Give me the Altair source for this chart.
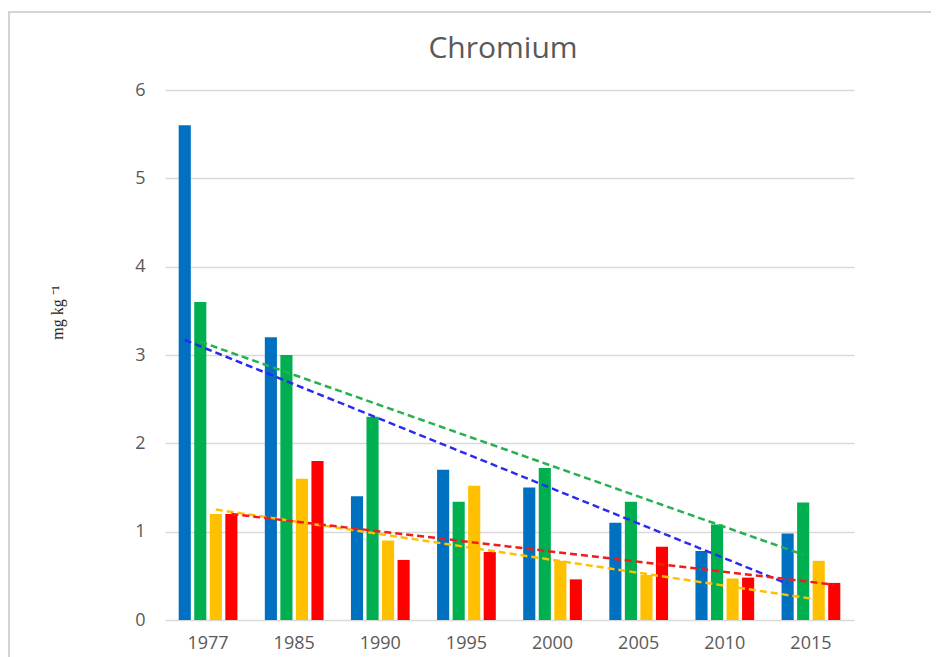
import altair as alt
import pandas as pd

years = ["1977", "1985", "1990", "1995", "2000", "2005", "2010", "2015"]
series = ["Series 1", "Series 2", "Series 3", "Series 4"]
s1_values = [5.6, 3.2, 1.4, 1.7, 1.5, 1.1, 0.78, 0.98]
s2_values = [3.6, 3.0, 2.3, 1.34, 1.72, 1.34, 1.08, 1.33]
s3_values = [1.2, 1.6, 0.9, 1.52, 0.67, 0.51, 0.47, 0.67]
s4_values = [1.2, 1.8, 0.68, 0.77, 0.46, 0.83, 0.48, 0.42]
trend_start = [3.17, 3.15, 1.25, 1.20]   # value of each trend line at 1977
trend_end = [0.41, 0.74, 0.23, 0.40]     # value of each trend line at 2015
chart_title = ["Chromium"]

bar_colors = ["#0070C0", "#00B050", "#FFC000", "#FF0000"]
trend_colors = ["#2B2BF0", "#27B04F", "#FFC000", "#F21C1C"]

all_values = [s1_values, s2_values, s3_values, s4_values]
bars = pd.DataFrame(
    [{"Year": y, "Series": s, "Value": v}
     for s, vals in zip(series, all_values) for y, v in zip(years, vals)]
)
trends = pd.DataFrame(
    [{"Year": years[0], "Series": s, "Value": a} for s, a in zip(series, trend_start)]
    + [{"Year": years[-1], "Series": s, "Value": b} for s, b in zip(series, trend_end)]
)
title_df = pd.DataFrame({"t": chart_title})

FONT = "Open Sans"
GRAY = "#595959"

x_enc = alt.X(
    "Year:N",
    sort=years,
    scale=alt.Scale(paddingInner=0.3, paddingOuter=0.15),
    axis=alt.Axis(
        title=None, labelAngle=0, ticks=False, domain=False, grid=False,
        labelFont=FONT, labelFontSize=18, labelColor=GRAY, labelPadding=14,
    ),
)
xoff_enc = alt.XOffset(
    "Series:N", sort=series,
    scale=alt.Scale(paddingInner=0.22, paddingOuter=0.05),
)
y_enc = alt.Y(
    "Value:Q",
    scale=alt.Scale(domain=[0, 6], nice=False),
    axis=alt.Axis(
        values=[0, 1, 2, 3, 4, 5, 6], format="d", ticks=False, domain=False,
        grid=True, gridColor="#D9D9D9", gridWidth=1.5,
        labelFont=FONT, labelFontSize=18, labelColor=GRAY, labelPadding=20,
        title="mg kg \u207b\u00b9", titleFont="Liberation Serif", titleFontSize=16,
        titleFontWeight="normal", titleColor="#262626",
        titleX=-108, titleY=222, titleAngle=270, titleAlign="center",
        titleBaseline="middle",
    ),
)

bar_layer = alt.Chart(bars).mark_bar().encode(
    x=x_enc,
    xOffset=xoff_enc,
    y=y_enc,
    color=alt.Color("Series:N", sort=series,
                    scale=alt.Scale(domain=series, range=bar_colors), legend=None),
)

trend_layer = alt.Chart(trends).mark_line(strokeDash=[7, 4], strokeWidth=2.5).encode(
    x=alt.X("Year:N", sort=years),
    xOffset=alt.XOffset("Series:N", sort=series),
    y=alt.Y("Value:Q"),
    color=alt.Color("Series:N", sort=series,
                    scale=alt.Scale(domain=series, range=trend_colors), legend=None),
    detail="Series:N",
)

# decorative chart-area border (left and top edges; right/bottom fall outside the picture)
frame_left = alt.Chart(title_df).mark_rule(color="#D4D4D4", strokeWidth=2).encode(
    x=alt.value(-156), y=alt.value(-78), y2=alt.value(600)
)
frame_top = alt.Chart(title_df).mark_rule(color="#D4D4D4", strokeWidth=2).encode(
    x=alt.value(-157), x2=alt.value(800), y=alt.value(-78)
)

title_layer = alt.Chart(title_df).mark_text(
    font=FONT, fontSize=30, color=GRAY, align="center", baseline="alphabetic"
).encode(
    text="t:N", x=alt.value(338), y=alt.value(-32)
)

chart = (
    alt.layer(frame_left, frame_top, bar_layer, trend_layer, title_layer)
    .resolve_scale(color="independent")
    .properties(
        width=689,
        height=530,
        padding={"left": 157, "top": 82, "right": 77, "bottom": 37},
        autosize=alt.AutoSizeParams(type="none"),
    )
    .configure_view(strokeWidth=0, stroke="transparent")
)

chart.save("out.html", embed_options={"renderer": "svg", "actions": False})
